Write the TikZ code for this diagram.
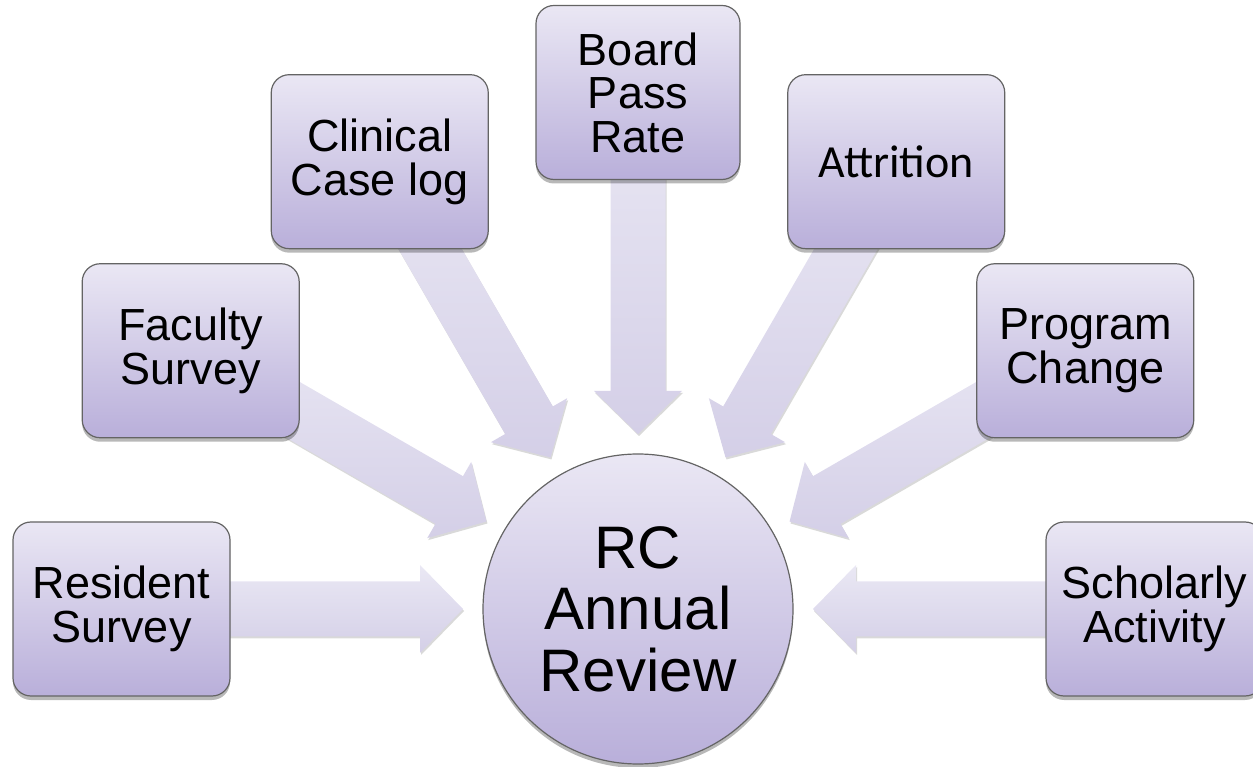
\documentclass[tikz,border=0pt]{standalone}
\usepackage{fontspec}
\setmainfont{Liberation Sans}
\newfontfamily\calibrilike{Carlito}
\usetikzlibrary{calc,shadows}

\definecolor{boxTop}{RGB}{234,231,244}
\definecolor{boxBot}{RGB}{185,175,218}
\definecolor{arrTop}{RGB}{234,232,244}
\definecolor{arrBot}{RGB}{212,207,231}
\definecolor{boxLine}{RGB}{100,100,100}

\pgfdeclarelayer{back}
\pgfsetlayers{back,main}

\begin{document}
\begin{tikzpicture}[x=1pt,y=1pt,
  softshadow/.style={drop shadow={shadow xshift=0pt,shadow yshift=-4pt,opacity=0.28,fill=black}},
  srcbox/.style={draw=boxLine, line width=1.2pt, rounded corners=18pt,
    minimum width=217pt, minimum height=174pt, inner sep=0pt,
    top color=boxTop, bottom color=boxBot, align=center,
    font=\fontsize{45}{43.5}\selectfont, softshadow},
  hub/.style={circle, draw=boxLine, line width=1.2pt, minimum size=310pt,
    inner sep=0pt, top color=boxTop, bottom color=boxBot, align=center,
    font=\fontsize{60}{61.5}\selectfont, softshadow},
  flow/.style={top color=arrTop, bottom color=arrBot,
    drop shadow={shadow xshift=1pt,shadow yshift=-2pt,opacity=0.15,fill=black}}]
\useasboundingbox (0,0) rectangle (1253,766);

% central review circle
\node[hub] (rc) at (638,157) {RC\\Annual\\Review};

% sources placed on an arc around the review
\node[srcbox] (res) at ($(rc.center)+(180:516.5)$) {Resident\\Survey};
\node[srcbox] (fac) at ($(rc.center)+(150:516.5)$) {Faculty\\Survey};
\node[srcbox] (cli) at ($(rc.center)+(120:516.5)$) {Clinical\\Case log};
\node[srcbox, minimum width=204pt] (brd) at ($(rc.center)+(90:516.5)$) {Board\\Pass\\Rate};
\node[srcbox, font=\calibrilike\fontsize{46}{46}\selectfont] (att) at ($(rc.center)+(60:516.5)$) {Attrition};
\node[srcbox] (prg) at ($(rc.center)+(30:516.5)$) {Program\\Change};
\node[srcbox] (sch) at ($(rc.center)+(0:516.5)$) {Scholarly\\Activity};

% block arrows converging on the review, drawn behind the boxes
\begin{pgfonlayer}{back}
\foreach \src in {res,fac,cli,brd,att,prg,sch}{
  \coordinate (hb) at ($(rc.center)!218pt!(\src.center)$);
  \coordinate (tp) at ($(rc.center)!175pt!(\src.center)$);
  \path[flow]
    ($(\src.center)!27.5pt!90:(rc.center)$) --
    ($(hb)!27.5pt!90:(tp)$) --
    ($(hb)!44pt!90:(tp)$) --
    (tp) --
    ($(hb)!44pt!-90:(tp)$) --
    ($(hb)!27.5pt!-90:(tp)$) --
    ($(\src.center)!27.5pt!-90:(rc.center)$) -- cycle;
}
\end{pgfonlayer}
\end{tikzpicture}
\end{document}
